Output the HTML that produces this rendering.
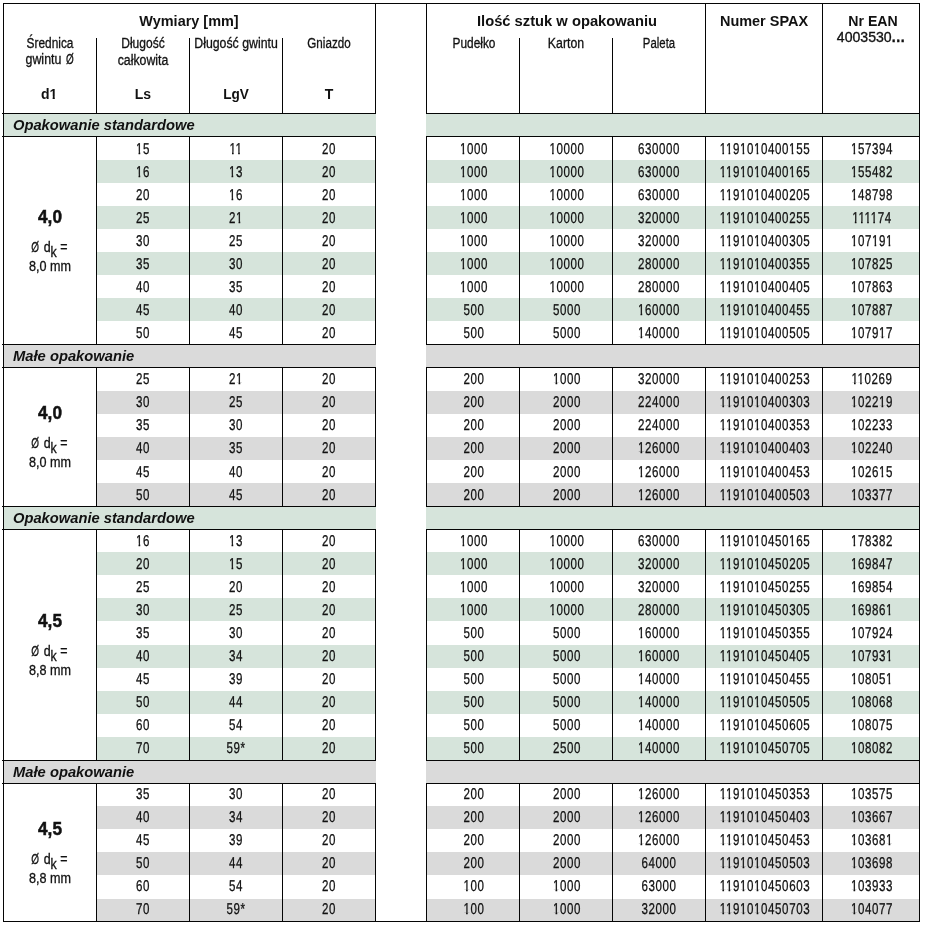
<!DOCTYPE html>
<html><head><meta charset="utf-8"><title>SPAX</title><style>
*{margin:0;padding:0;box-sizing:border-box}
html,body{width:925px;height:929px;background:#fff;overflow:hidden}
body{position:relative;font-family:"Liberation Sans",sans-serif;color:#111}
.r{position:absolute}
.t{position:absolute;width:300px;text-align:center;white-space:nowrap;transform-origin:50% 50%;filter:grayscale(1)}
.d{font-size:15.6px;line-height:15.6px;letter-spacing:0.8px;-webkit-text-stroke:0.3px #111;text-rendering:geometricPrecision}
.band{font-size:14.5px;line-height:14.5px;font-weight:bold;font-style:italic}
.big{font-size:18.5px;line-height:18.5px;font-weight:bold;-webkit-text-stroke:0.5px #111}
.dk{font-size:14px;line-height:14px;-webkit-text-stroke:0.3px #111}
.mm{font-size:14px;line-height:14px;-webkit-text-stroke:0.3px #111}
.hb{font-size:14.5px;line-height:14.5px;font-weight:bold}
.hs{font-size:14px;line-height:14px;-webkit-text-stroke:0.3px #111}
.hsym{font-size:14px;line-height:14px;font-weight:bold}
.hreg{font-size:14.5px;line-height:14.5px;-webkit-text-stroke:0.35px #111}
.kk{position:relative;top:5px}
.oo{display:inline-block;transform:scaleX(0.8)}
.o{font-style:normal;clip-path:polygon(0 0,100% 0,100% 0.7em,0.366em 0.7em,0.366em 100%,0.226em 100%,0.226em 0.7em,0 0.7em)}
.ob{font-style:normal;clip-path:polygon(0 0,100% 0,100% 0.76em,0.38em 0.76em,0.38em 100%,0.225em 100%,0.225em 0.76em,0 0.76em)}
</style></head>
<body>
<div class="r" style="left:3px;top:114px;width:373px;height:22px;background:#d6e4db"></div>
<div class="r" style="left:426px;top:114px;width:494px;height:22px;background:#d6e4db"></div>
<div class="r" style="left:96px;top:160px;width:280px;height:23px;background:#d6e4db"></div>
<div class="r" style="left:426px;top:160px;width:494px;height:23px;background:#d6e4db"></div>
<div class="r" style="left:96px;top:206px;width:280px;height:23px;background:#d6e4db"></div>
<div class="r" style="left:426px;top:206px;width:494px;height:23px;background:#d6e4db"></div>
<div class="r" style="left:96px;top:252px;width:280px;height:23px;background:#d6e4db"></div>
<div class="r" style="left:426px;top:252px;width:494px;height:23px;background:#d6e4db"></div>
<div class="r" style="left:96px;top:298px;width:280px;height:23px;background:#d6e4db"></div>
<div class="r" style="left:426px;top:298px;width:494px;height:23px;background:#d6e4db"></div>
<div class="r" style="left:3px;top:345px;width:373px;height:22px;background:#dadada"></div>
<div class="r" style="left:426px;top:345px;width:494px;height:22px;background:#dadada"></div>
<div class="r" style="left:96px;top:391px;width:280px;height:23px;background:#dadada"></div>
<div class="r" style="left:426px;top:391px;width:494px;height:23px;background:#dadada"></div>
<div class="r" style="left:96px;top:437px;width:280px;height:23px;background:#dadada"></div>
<div class="r" style="left:426px;top:437px;width:494px;height:23px;background:#dadada"></div>
<div class="r" style="left:96px;top:483px;width:280px;height:23px;background:#dadada"></div>
<div class="r" style="left:426px;top:483px;width:494px;height:23px;background:#dadada"></div>
<div class="r" style="left:3px;top:507px;width:373px;height:22px;background:#d6e4db"></div>
<div class="r" style="left:426px;top:507px;width:494px;height:22px;background:#d6e4db"></div>
<div class="r" style="left:96px;top:552px;width:280px;height:23px;background:#d6e4db"></div>
<div class="r" style="left:426px;top:552px;width:494px;height:23px;background:#d6e4db"></div>
<div class="r" style="left:96px;top:598px;width:280px;height:23px;background:#d6e4db"></div>
<div class="r" style="left:426px;top:598px;width:494px;height:23px;background:#d6e4db"></div>
<div class="r" style="left:96px;top:645px;width:280px;height:23px;background:#d6e4db"></div>
<div class="r" style="left:426px;top:645px;width:494px;height:23px;background:#d6e4db"></div>
<div class="r" style="left:96px;top:691px;width:280px;height:23px;background:#d6e4db"></div>
<div class="r" style="left:426px;top:691px;width:494px;height:23px;background:#d6e4db"></div>
<div class="r" style="left:96px;top:737px;width:280px;height:23px;background:#d6e4db"></div>
<div class="r" style="left:426px;top:737px;width:494px;height:23px;background:#d6e4db"></div>
<div class="r" style="left:3px;top:761px;width:373px;height:22px;background:#dadada"></div>
<div class="r" style="left:426px;top:761px;width:494px;height:22px;background:#dadada"></div>
<div class="r" style="left:96px;top:806px;width:280px;height:23px;background:#dadada"></div>
<div class="r" style="left:426px;top:806px;width:494px;height:23px;background:#dadada"></div>
<div class="r" style="left:96px;top:852px;width:280px;height:23px;background:#dadada"></div>
<div class="r" style="left:426px;top:852px;width:494px;height:23px;background:#dadada"></div>
<div class="r" style="left:96px;top:899px;width:280px;height:22px;background:#dadada"></div>
<div class="r" style="left:426px;top:899px;width:494px;height:22px;background:#dadada"></div>
<div class="r" style="left:3px;top:3px;width:917px;height:1px;background:#050505"></div>
<div class="r" style="left:3px;top:921px;width:917px;height:1px;background:#050505"></div>
<div class="r" style="left:2px;top:113px;width:374px;height:1px;background:#050505"></div>
<div class="r" style="left:426px;top:113px;width:494px;height:1px;background:#050505"></div>
<div class="r" style="left:2px;top:136px;width:374px;height:1px;background:#050505"></div>
<div class="r" style="left:426px;top:136px;width:494px;height:1px;background:#050505"></div>
<div class="r" style="left:2px;top:344px;width:374px;height:1px;background:#050505"></div>
<div class="r" style="left:426px;top:344px;width:494px;height:1px;background:#050505"></div>
<div class="r" style="left:2px;top:367px;width:374px;height:1px;background:#050505"></div>
<div class="r" style="left:426px;top:367px;width:494px;height:1px;background:#050505"></div>
<div class="r" style="left:2px;top:506px;width:374px;height:1px;background:#050505"></div>
<div class="r" style="left:426px;top:506px;width:494px;height:1px;background:#050505"></div>
<div class="r" style="left:2px;top:529px;width:374px;height:1px;background:#050505"></div>
<div class="r" style="left:426px;top:529px;width:494px;height:1px;background:#050505"></div>
<div class="r" style="left:2px;top:760px;width:374px;height:1px;background:#050505"></div>
<div class="r" style="left:426px;top:760px;width:494px;height:1px;background:#050505"></div>
<div class="r" style="left:2px;top:783px;width:374px;height:1px;background:#050505"></div>
<div class="r" style="left:426px;top:783px;width:494px;height:1px;background:#050505"></div>
<div class="r" style="left:3px;top:3px;width:1px;height:110px;background:#050505"></div>
<div class="r" style="left:375px;top:3px;width:1px;height:110px;background:#050505"></div>
<div class="r" style="left:426px;top:3px;width:1px;height:110px;background:#050505"></div>
<div class="r" style="left:705px;top:3px;width:1px;height:110px;background:#050505"></div>
<div class="r" style="left:822px;top:3px;width:1px;height:110px;background:#050505"></div>
<div class="r" style="left:919px;top:3px;width:1px;height:110px;background:#050505"></div>
<div class="r" style="left:96px;top:38px;width:1px;height:75px;background:#050505"></div>
<div class="r" style="left:189px;top:38px;width:1px;height:75px;background:#050505"></div>
<div class="r" style="left:282px;top:38px;width:1px;height:75px;background:#050505"></div>
<div class="r" style="left:519px;top:38px;width:1px;height:75px;background:#050505"></div>
<div class="r" style="left:612px;top:38px;width:1px;height:75px;background:#050505"></div>
<div class="r" style="left:3px;top:113px;width:1px;height:23px;background:#050505"></div>
<div class="r" style="left:919px;top:113px;width:1px;height:23px;background:#050505"></div>
<div class="r" style="left:3px;top:136px;width:1px;height:209px;background:#050505"></div>
<div class="r" style="left:96px;top:136px;width:1px;height:209px;background:#050505"></div>
<div class="r" style="left:189px;top:136px;width:1px;height:209px;background:#050505"></div>
<div class="r" style="left:282px;top:136px;width:1px;height:209px;background:#050505"></div>
<div class="r" style="left:375px;top:136px;width:1px;height:209px;background:#050505"></div>
<div class="r" style="left:426px;top:136px;width:1px;height:209px;background:#050505"></div>
<div class="r" style="left:519px;top:136px;width:1px;height:209px;background:#050505"></div>
<div class="r" style="left:612px;top:136px;width:1px;height:209px;background:#050505"></div>
<div class="r" style="left:705px;top:136px;width:1px;height:209px;background:#050505"></div>
<div class="r" style="left:822px;top:136px;width:1px;height:209px;background:#050505"></div>
<div class="r" style="left:919px;top:136px;width:1px;height:209px;background:#050505"></div>
<div class="r" style="left:3px;top:344px;width:1px;height:23px;background:#050505"></div>
<div class="r" style="left:919px;top:344px;width:1px;height:23px;background:#050505"></div>
<div class="r" style="left:3px;top:367px;width:1px;height:140px;background:#050505"></div>
<div class="r" style="left:96px;top:367px;width:1px;height:140px;background:#050505"></div>
<div class="r" style="left:189px;top:367px;width:1px;height:140px;background:#050505"></div>
<div class="r" style="left:282px;top:367px;width:1px;height:140px;background:#050505"></div>
<div class="r" style="left:375px;top:367px;width:1px;height:140px;background:#050505"></div>
<div class="r" style="left:426px;top:367px;width:1px;height:140px;background:#050505"></div>
<div class="r" style="left:519px;top:367px;width:1px;height:140px;background:#050505"></div>
<div class="r" style="left:612px;top:367px;width:1px;height:140px;background:#050505"></div>
<div class="r" style="left:705px;top:367px;width:1px;height:140px;background:#050505"></div>
<div class="r" style="left:822px;top:367px;width:1px;height:140px;background:#050505"></div>
<div class="r" style="left:919px;top:367px;width:1px;height:140px;background:#050505"></div>
<div class="r" style="left:3px;top:506px;width:1px;height:23px;background:#050505"></div>
<div class="r" style="left:919px;top:506px;width:1px;height:23px;background:#050505"></div>
<div class="r" style="left:3px;top:529px;width:1px;height:232px;background:#050505"></div>
<div class="r" style="left:96px;top:529px;width:1px;height:232px;background:#050505"></div>
<div class="r" style="left:189px;top:529px;width:1px;height:232px;background:#050505"></div>
<div class="r" style="left:282px;top:529px;width:1px;height:232px;background:#050505"></div>
<div class="r" style="left:375px;top:529px;width:1px;height:232px;background:#050505"></div>
<div class="r" style="left:426px;top:529px;width:1px;height:232px;background:#050505"></div>
<div class="r" style="left:519px;top:529px;width:1px;height:232px;background:#050505"></div>
<div class="r" style="left:612px;top:529px;width:1px;height:232px;background:#050505"></div>
<div class="r" style="left:705px;top:529px;width:1px;height:232px;background:#050505"></div>
<div class="r" style="left:822px;top:529px;width:1px;height:232px;background:#050505"></div>
<div class="r" style="left:919px;top:529px;width:1px;height:232px;background:#050505"></div>
<div class="r" style="left:3px;top:760px;width:1px;height:23px;background:#050505"></div>
<div class="r" style="left:919px;top:760px;width:1px;height:23px;background:#050505"></div>
<div class="r" style="left:3px;top:783px;width:1px;height:139px;background:#050505"></div>
<div class="r" style="left:96px;top:783px;width:1px;height:139px;background:#050505"></div>
<div class="r" style="left:189px;top:783px;width:1px;height:139px;background:#050505"></div>
<div class="r" style="left:282px;top:783px;width:1px;height:139px;background:#050505"></div>
<div class="r" style="left:375px;top:783px;width:1px;height:139px;background:#050505"></div>
<div class="r" style="left:426px;top:783px;width:1px;height:139px;background:#050505"></div>
<div class="r" style="left:519px;top:783px;width:1px;height:139px;background:#050505"></div>
<div class="r" style="left:612px;top:783px;width:1px;height:139px;background:#050505"></div>
<div class="r" style="left:705px;top:783px;width:1px;height:139px;background:#050505"></div>
<div class="r" style="left:822px;top:783px;width:1px;height:139px;background:#050505"></div>
<div class="r" style="left:919px;top:783px;width:1px;height:139px;background:#050505"></div>
<div class="t band" style="left:13.30px;top:118.28px;text-align:left;transform-origin:0 50%;transform:scaleX(1.0150);">Opakowanie standardowe</div>
<div class="t d" style="left:-7.10px;top:141.84px;transform:scaleX(0.7400);"><i class="o">1</i>5</div>
<div class="t d" style="left:85.90px;top:141.84px;transform:scaleX(0.7400);"><i class="o">1</i><i class="o">1</i></div>
<div class="t d" style="left:178.90px;top:141.84px;transform:scaleX(0.7400);">20</div>
<div class="t d" style="left:323.60px;top:141.84px;transform:scaleX(0.7400);"><i class="o">1</i>000</div>
<div class="t d" style="left:416.60px;top:141.84px;transform:scaleX(0.7400);"><i class="o">1</i>0000</div>
<div class="t d" style="left:509.40px;top:141.84px;transform:scaleX(0.7400);">630000</div>
<div class="t d" style="left:614.60px;top:141.84px;transform:scaleX(0.7400);"><i class="o">1</i><i class="o">1</i>9<i class="o">1</i>0<i class="o">1</i>0400<i class="o">1</i>55</div>
<div class="t d" style="left:722.00px;top:141.84px;transform:scaleX(0.7400);"><i class="o">1</i>57394</div>
<div class="t d" style="left:-7.10px;top:164.89px;transform:scaleX(0.7400);"><i class="o">1</i>6</div>
<div class="t d" style="left:85.90px;top:164.89px;transform:scaleX(0.7400);"><i class="o">1</i>3</div>
<div class="t d" style="left:178.90px;top:164.89px;transform:scaleX(0.7400);">20</div>
<div class="t d" style="left:323.60px;top:164.89px;transform:scaleX(0.7400);"><i class="o">1</i>000</div>
<div class="t d" style="left:416.60px;top:164.89px;transform:scaleX(0.7400);"><i class="o">1</i>0000</div>
<div class="t d" style="left:509.40px;top:164.89px;transform:scaleX(0.7400);">630000</div>
<div class="t d" style="left:614.60px;top:164.89px;transform:scaleX(0.7400);"><i class="o">1</i><i class="o">1</i>9<i class="o">1</i>0<i class="o">1</i>0400<i class="o">1</i>65</div>
<div class="t d" style="left:722.00px;top:164.89px;transform:scaleX(0.7400);"><i class="o">1</i>55482</div>
<div class="t d" style="left:-7.10px;top:187.94px;transform:scaleX(0.7400);">20</div>
<div class="t d" style="left:85.90px;top:187.94px;transform:scaleX(0.7400);"><i class="o">1</i>6</div>
<div class="t d" style="left:178.90px;top:187.94px;transform:scaleX(0.7400);">20</div>
<div class="t d" style="left:323.60px;top:187.94px;transform:scaleX(0.7400);"><i class="o">1</i>000</div>
<div class="t d" style="left:416.60px;top:187.94px;transform:scaleX(0.7400);"><i class="o">1</i>0000</div>
<div class="t d" style="left:509.40px;top:187.94px;transform:scaleX(0.7400);">630000</div>
<div class="t d" style="left:614.60px;top:187.94px;transform:scaleX(0.7400);"><i class="o">1</i><i class="o">1</i>9<i class="o">1</i>0<i class="o">1</i>0400205</div>
<div class="t d" style="left:722.00px;top:187.94px;transform:scaleX(0.7400);"><i class="o">1</i>48798</div>
<div class="t d" style="left:-7.10px;top:210.99px;transform:scaleX(0.7400);">25</div>
<div class="t d" style="left:85.90px;top:210.99px;transform:scaleX(0.7400);">2<i class="o">1</i></div>
<div class="t d" style="left:178.90px;top:210.99px;transform:scaleX(0.7400);">20</div>
<div class="t d" style="left:323.60px;top:210.99px;transform:scaleX(0.7400);"><i class="o">1</i>000</div>
<div class="t d" style="left:416.60px;top:210.99px;transform:scaleX(0.7400);"><i class="o">1</i>0000</div>
<div class="t d" style="left:509.40px;top:210.99px;transform:scaleX(0.7400);">320000</div>
<div class="t d" style="left:614.60px;top:210.99px;transform:scaleX(0.7400);"><i class="o">1</i><i class="o">1</i>9<i class="o">1</i>0<i class="o">1</i>0400255</div>
<div class="t d" style="left:722.00px;top:210.99px;transform:scaleX(0.7400);"><i class="o">1</i><i class="o">1</i><i class="o">1</i><i class="o">1</i>74</div>
<div class="t d" style="left:-7.10px;top:234.04px;transform:scaleX(0.7400);">30</div>
<div class="t d" style="left:85.90px;top:234.04px;transform:scaleX(0.7400);">25</div>
<div class="t d" style="left:178.90px;top:234.04px;transform:scaleX(0.7400);">20</div>
<div class="t d" style="left:323.60px;top:234.04px;transform:scaleX(0.7400);"><i class="o">1</i>000</div>
<div class="t d" style="left:416.60px;top:234.04px;transform:scaleX(0.7400);"><i class="o">1</i>0000</div>
<div class="t d" style="left:509.40px;top:234.04px;transform:scaleX(0.7400);">320000</div>
<div class="t d" style="left:614.60px;top:234.04px;transform:scaleX(0.7400);"><i class="o">1</i><i class="o">1</i>9<i class="o">1</i>0<i class="o">1</i>0400305</div>
<div class="t d" style="left:722.00px;top:234.04px;transform:scaleX(0.7400);"><i class="o">1</i>07<i class="o">1</i>9<i class="o">1</i></div>
<div class="t d" style="left:-7.10px;top:257.09px;transform:scaleX(0.7400);">35</div>
<div class="t d" style="left:85.90px;top:257.09px;transform:scaleX(0.7400);">30</div>
<div class="t d" style="left:178.90px;top:257.09px;transform:scaleX(0.7400);">20</div>
<div class="t d" style="left:323.60px;top:257.09px;transform:scaleX(0.7400);"><i class="o">1</i>000</div>
<div class="t d" style="left:416.60px;top:257.09px;transform:scaleX(0.7400);"><i class="o">1</i>0000</div>
<div class="t d" style="left:509.40px;top:257.09px;transform:scaleX(0.7400);">280000</div>
<div class="t d" style="left:614.60px;top:257.09px;transform:scaleX(0.7400);"><i class="o">1</i><i class="o">1</i>9<i class="o">1</i>0<i class="o">1</i>0400355</div>
<div class="t d" style="left:722.00px;top:257.09px;transform:scaleX(0.7400);"><i class="o">1</i>07825</div>
<div class="t d" style="left:-7.10px;top:280.14px;transform:scaleX(0.7400);">40</div>
<div class="t d" style="left:85.90px;top:280.14px;transform:scaleX(0.7400);">35</div>
<div class="t d" style="left:178.90px;top:280.14px;transform:scaleX(0.7400);">20</div>
<div class="t d" style="left:323.60px;top:280.14px;transform:scaleX(0.7400);"><i class="o">1</i>000</div>
<div class="t d" style="left:416.60px;top:280.14px;transform:scaleX(0.7400);"><i class="o">1</i>0000</div>
<div class="t d" style="left:509.40px;top:280.14px;transform:scaleX(0.7400);">280000</div>
<div class="t d" style="left:614.60px;top:280.14px;transform:scaleX(0.7400);"><i class="o">1</i><i class="o">1</i>9<i class="o">1</i>0<i class="o">1</i>0400405</div>
<div class="t d" style="left:722.00px;top:280.14px;transform:scaleX(0.7400);"><i class="o">1</i>07863</div>
<div class="t d" style="left:-7.10px;top:303.19px;transform:scaleX(0.7400);">45</div>
<div class="t d" style="left:85.90px;top:303.19px;transform:scaleX(0.7400);">40</div>
<div class="t d" style="left:178.90px;top:303.19px;transform:scaleX(0.7400);">20</div>
<div class="t d" style="left:323.60px;top:303.19px;transform:scaleX(0.7400);">500</div>
<div class="t d" style="left:416.60px;top:303.19px;transform:scaleX(0.7400);">5000</div>
<div class="t d" style="left:509.40px;top:303.19px;transform:scaleX(0.7400);"><i class="o">1</i>60000</div>
<div class="t d" style="left:614.60px;top:303.19px;transform:scaleX(0.7400);"><i class="o">1</i><i class="o">1</i>9<i class="o">1</i>0<i class="o">1</i>0400455</div>
<div class="t d" style="left:722.00px;top:303.19px;transform:scaleX(0.7400);"><i class="o">1</i>07887</div>
<div class="t d" style="left:-7.10px;top:326.24px;transform:scaleX(0.7400);">50</div>
<div class="t d" style="left:85.90px;top:326.24px;transform:scaleX(0.7400);">45</div>
<div class="t d" style="left:178.90px;top:326.24px;transform:scaleX(0.7400);">20</div>
<div class="t d" style="left:323.60px;top:326.24px;transform:scaleX(0.7400);">500</div>
<div class="t d" style="left:416.60px;top:326.24px;transform:scaleX(0.7400);">5000</div>
<div class="t d" style="left:509.40px;top:326.24px;transform:scaleX(0.7400);"><i class="o">1</i>40000</div>
<div class="t d" style="left:614.60px;top:326.24px;transform:scaleX(0.7400);"><i class="o">1</i><i class="o">1</i>9<i class="o">1</i>0<i class="o">1</i>0400505</div>
<div class="t d" style="left:722.00px;top:326.24px;transform:scaleX(0.7400);"><i class="o">1</i>079<i class="o">1</i>7</div>
<div class="t big" style="left:-100.40px;top:208.17px;transform:scaleX(0.9300);">4,0</div>
<div class="t dk" style="left:-100.60px;top:240.18px;transform:scaleX(0.8886);"><span class="oo">Ø</span> d<span class="kk">k</span> =</div>
<div class="t mm" style="left:-100.40px;top:259.08px;transform:scaleX(0.9007);">8,0 mm</div>
<div class="t band" style="left:13.30px;top:349.16px;text-align:left;transform-origin:0 50%;transform:scaleX(1.0170);">Małe opakowanie</div>
<div class="t d" style="left:-7.10px;top:372.33px;transform:scaleX(0.7400);">25</div>
<div class="t d" style="left:85.90px;top:372.33px;transform:scaleX(0.7400);">2<i class="o">1</i></div>
<div class="t d" style="left:178.90px;top:372.33px;transform:scaleX(0.7400);">20</div>
<div class="t d" style="left:323.60px;top:372.33px;transform:scaleX(0.7400);">200</div>
<div class="t d" style="left:416.60px;top:372.33px;transform:scaleX(0.7400);"><i class="o">1</i>000</div>
<div class="t d" style="left:509.40px;top:372.33px;transform:scaleX(0.7400);">320000</div>
<div class="t d" style="left:614.60px;top:372.33px;transform:scaleX(0.7400);"><i class="o">1</i><i class="o">1</i>9<i class="o">1</i>0<i class="o">1</i>0400253</div>
<div class="t d" style="left:722.00px;top:372.33px;transform:scaleX(0.7400);"><i class="o">1</i><i class="o">1</i>0269</div>
<div class="t d" style="left:-7.10px;top:395.38px;transform:scaleX(0.7400);">30</div>
<div class="t d" style="left:85.90px;top:395.38px;transform:scaleX(0.7400);">25</div>
<div class="t d" style="left:178.90px;top:395.38px;transform:scaleX(0.7400);">20</div>
<div class="t d" style="left:323.60px;top:395.38px;transform:scaleX(0.7400);">200</div>
<div class="t d" style="left:416.60px;top:395.38px;transform:scaleX(0.7400);">2000</div>
<div class="t d" style="left:509.40px;top:395.38px;transform:scaleX(0.7400);">224000</div>
<div class="t d" style="left:614.60px;top:395.38px;transform:scaleX(0.7400);"><i class="o">1</i><i class="o">1</i>9<i class="o">1</i>0<i class="o">1</i>0400303</div>
<div class="t d" style="left:722.00px;top:395.38px;transform:scaleX(0.7400);"><i class="o">1</i>022<i class="o">1</i>9</div>
<div class="t d" style="left:-7.10px;top:418.43px;transform:scaleX(0.7400);">35</div>
<div class="t d" style="left:85.90px;top:418.43px;transform:scaleX(0.7400);">30</div>
<div class="t d" style="left:178.90px;top:418.43px;transform:scaleX(0.7400);">20</div>
<div class="t d" style="left:323.60px;top:418.43px;transform:scaleX(0.7400);">200</div>
<div class="t d" style="left:416.60px;top:418.43px;transform:scaleX(0.7400);">2000</div>
<div class="t d" style="left:509.40px;top:418.43px;transform:scaleX(0.7400);">224000</div>
<div class="t d" style="left:614.60px;top:418.43px;transform:scaleX(0.7400);"><i class="o">1</i><i class="o">1</i>9<i class="o">1</i>0<i class="o">1</i>0400353</div>
<div class="t d" style="left:722.00px;top:418.43px;transform:scaleX(0.7400);"><i class="o">1</i>02233</div>
<div class="t d" style="left:-7.10px;top:441.48px;transform:scaleX(0.7400);">40</div>
<div class="t d" style="left:85.90px;top:441.48px;transform:scaleX(0.7400);">35</div>
<div class="t d" style="left:178.90px;top:441.48px;transform:scaleX(0.7400);">20</div>
<div class="t d" style="left:323.60px;top:441.48px;transform:scaleX(0.7400);">200</div>
<div class="t d" style="left:416.60px;top:441.48px;transform:scaleX(0.7400);">2000</div>
<div class="t d" style="left:509.40px;top:441.48px;transform:scaleX(0.7400);"><i class="o">1</i>26000</div>
<div class="t d" style="left:614.60px;top:441.48px;transform:scaleX(0.7400);"><i class="o">1</i><i class="o">1</i>9<i class="o">1</i>0<i class="o">1</i>0400403</div>
<div class="t d" style="left:722.00px;top:441.48px;transform:scaleX(0.7400);"><i class="o">1</i>02240</div>
<div class="t d" style="left:-7.10px;top:464.53px;transform:scaleX(0.7400);">45</div>
<div class="t d" style="left:85.90px;top:464.53px;transform:scaleX(0.7400);">40</div>
<div class="t d" style="left:178.90px;top:464.53px;transform:scaleX(0.7400);">20</div>
<div class="t d" style="left:323.60px;top:464.53px;transform:scaleX(0.7400);">200</div>
<div class="t d" style="left:416.60px;top:464.53px;transform:scaleX(0.7400);">2000</div>
<div class="t d" style="left:509.40px;top:464.53px;transform:scaleX(0.7400);"><i class="o">1</i>26000</div>
<div class="t d" style="left:614.60px;top:464.53px;transform:scaleX(0.7400);"><i class="o">1</i><i class="o">1</i>9<i class="o">1</i>0<i class="o">1</i>0400453</div>
<div class="t d" style="left:722.00px;top:464.53px;transform:scaleX(0.7400);"><i class="o">1</i>026<i class="o">1</i>5</div>
<div class="t d" style="left:-7.10px;top:487.58px;transform:scaleX(0.7400);">50</div>
<div class="t d" style="left:85.90px;top:487.58px;transform:scaleX(0.7400);">45</div>
<div class="t d" style="left:178.90px;top:487.58px;transform:scaleX(0.7400);">20</div>
<div class="t d" style="left:323.60px;top:487.58px;transform:scaleX(0.7400);">200</div>
<div class="t d" style="left:416.60px;top:487.58px;transform:scaleX(0.7400);">2000</div>
<div class="t d" style="left:509.40px;top:487.58px;transform:scaleX(0.7400);"><i class="o">1</i>26000</div>
<div class="t d" style="left:614.60px;top:487.58px;transform:scaleX(0.7400);"><i class="o">1</i><i class="o">1</i>9<i class="o">1</i>0<i class="o">1</i>0400503</div>
<div class="t d" style="left:722.00px;top:487.58px;transform:scaleX(0.7400);"><i class="o">1</i>03377</div>
<div class="t big" style="left:-100.40px;top:404.42px;transform:scaleX(0.9300);">4,0</div>
<div class="t dk" style="left:-100.60px;top:436.43px;transform:scaleX(0.8886);"><span class="oo">Ø</span> d<span class="kk">k</span> =</div>
<div class="t mm" style="left:-100.40px;top:455.33px;transform:scaleX(0.9007);">8,0 mm</div>
<div class="t band" style="left:13.30px;top:510.77px;text-align:left;transform-origin:0 50%;transform:scaleX(1.0150);">Opakowanie standardowe</div>
<div class="t d" style="left:-7.10px;top:533.68px;transform:scaleX(0.7400);"><i class="o">1</i>6</div>
<div class="t d" style="left:85.90px;top:533.68px;transform:scaleX(0.7400);"><i class="o">1</i>3</div>
<div class="t d" style="left:178.90px;top:533.68px;transform:scaleX(0.7400);">20</div>
<div class="t d" style="left:323.60px;top:533.68px;transform:scaleX(0.7400);"><i class="o">1</i>000</div>
<div class="t d" style="left:416.60px;top:533.68px;transform:scaleX(0.7400);"><i class="o">1</i>0000</div>
<div class="t d" style="left:509.40px;top:533.68px;transform:scaleX(0.7400);">630000</div>
<div class="t d" style="left:614.60px;top:533.68px;transform:scaleX(0.7400);"><i class="o">1</i><i class="o">1</i>9<i class="o">1</i>0<i class="o">1</i>0450<i class="o">1</i>65</div>
<div class="t d" style="left:722.00px;top:533.68px;transform:scaleX(0.7400);"><i class="o">1</i>78382</div>
<div class="t d" style="left:-7.10px;top:556.73px;transform:scaleX(0.7400);">20</div>
<div class="t d" style="left:85.90px;top:556.73px;transform:scaleX(0.7400);"><i class="o">1</i>5</div>
<div class="t d" style="left:178.90px;top:556.73px;transform:scaleX(0.7400);">20</div>
<div class="t d" style="left:323.60px;top:556.73px;transform:scaleX(0.7400);"><i class="o">1</i>000</div>
<div class="t d" style="left:416.60px;top:556.73px;transform:scaleX(0.7400);"><i class="o">1</i>0000</div>
<div class="t d" style="left:509.40px;top:556.73px;transform:scaleX(0.7400);">320000</div>
<div class="t d" style="left:614.60px;top:556.73px;transform:scaleX(0.7400);"><i class="o">1</i><i class="o">1</i>9<i class="o">1</i>0<i class="o">1</i>0450205</div>
<div class="t d" style="left:722.00px;top:556.73px;transform:scaleX(0.7400);"><i class="o">1</i>69847</div>
<div class="t d" style="left:-7.10px;top:579.77px;transform:scaleX(0.7400);">25</div>
<div class="t d" style="left:85.90px;top:579.77px;transform:scaleX(0.7400);">20</div>
<div class="t d" style="left:178.90px;top:579.77px;transform:scaleX(0.7400);">20</div>
<div class="t d" style="left:323.60px;top:579.77px;transform:scaleX(0.7400);"><i class="o">1</i>000</div>
<div class="t d" style="left:416.60px;top:579.77px;transform:scaleX(0.7400);"><i class="o">1</i>0000</div>
<div class="t d" style="left:509.40px;top:579.77px;transform:scaleX(0.7400);">320000</div>
<div class="t d" style="left:614.60px;top:579.77px;transform:scaleX(0.7400);"><i class="o">1</i><i class="o">1</i>9<i class="o">1</i>0<i class="o">1</i>0450255</div>
<div class="t d" style="left:722.00px;top:579.77px;transform:scaleX(0.7400);"><i class="o">1</i>69854</div>
<div class="t d" style="left:-7.10px;top:602.82px;transform:scaleX(0.7400);">30</div>
<div class="t d" style="left:85.90px;top:602.82px;transform:scaleX(0.7400);">25</div>
<div class="t d" style="left:178.90px;top:602.82px;transform:scaleX(0.7400);">20</div>
<div class="t d" style="left:323.60px;top:602.82px;transform:scaleX(0.7400);"><i class="o">1</i>000</div>
<div class="t d" style="left:416.60px;top:602.82px;transform:scaleX(0.7400);"><i class="o">1</i>0000</div>
<div class="t d" style="left:509.40px;top:602.82px;transform:scaleX(0.7400);">280000</div>
<div class="t d" style="left:614.60px;top:602.82px;transform:scaleX(0.7400);"><i class="o">1</i><i class="o">1</i>9<i class="o">1</i>0<i class="o">1</i>0450305</div>
<div class="t d" style="left:722.00px;top:602.82px;transform:scaleX(0.7400);"><i class="o">1</i>6986<i class="o">1</i></div>
<div class="t d" style="left:-7.10px;top:625.87px;transform:scaleX(0.7400);">35</div>
<div class="t d" style="left:85.90px;top:625.87px;transform:scaleX(0.7400);">30</div>
<div class="t d" style="left:178.90px;top:625.87px;transform:scaleX(0.7400);">20</div>
<div class="t d" style="left:323.60px;top:625.87px;transform:scaleX(0.7400);">500</div>
<div class="t d" style="left:416.60px;top:625.87px;transform:scaleX(0.7400);">5000</div>
<div class="t d" style="left:509.40px;top:625.87px;transform:scaleX(0.7400);"><i class="o">1</i>60000</div>
<div class="t d" style="left:614.60px;top:625.87px;transform:scaleX(0.7400);"><i class="o">1</i><i class="o">1</i>9<i class="o">1</i>0<i class="o">1</i>0450355</div>
<div class="t d" style="left:722.00px;top:625.87px;transform:scaleX(0.7400);"><i class="o">1</i>07924</div>
<div class="t d" style="left:-7.10px;top:648.92px;transform:scaleX(0.7400);">40</div>
<div class="t d" style="left:85.90px;top:648.92px;transform:scaleX(0.7400);">34</div>
<div class="t d" style="left:178.90px;top:648.92px;transform:scaleX(0.7400);">20</div>
<div class="t d" style="left:323.60px;top:648.92px;transform:scaleX(0.7400);">500</div>
<div class="t d" style="left:416.60px;top:648.92px;transform:scaleX(0.7400);">5000</div>
<div class="t d" style="left:509.40px;top:648.92px;transform:scaleX(0.7400);"><i class="o">1</i>60000</div>
<div class="t d" style="left:614.60px;top:648.92px;transform:scaleX(0.7400);"><i class="o">1</i><i class="o">1</i>9<i class="o">1</i>0<i class="o">1</i>0450405</div>
<div class="t d" style="left:722.00px;top:648.92px;transform:scaleX(0.7400);"><i class="o">1</i>0793<i class="o">1</i></div>
<div class="t d" style="left:-7.10px;top:671.97px;transform:scaleX(0.7400);">45</div>
<div class="t d" style="left:85.90px;top:671.97px;transform:scaleX(0.7400);">39</div>
<div class="t d" style="left:178.90px;top:671.97px;transform:scaleX(0.7400);">20</div>
<div class="t d" style="left:323.60px;top:671.97px;transform:scaleX(0.7400);">500</div>
<div class="t d" style="left:416.60px;top:671.97px;transform:scaleX(0.7400);">5000</div>
<div class="t d" style="left:509.40px;top:671.97px;transform:scaleX(0.7400);"><i class="o">1</i>40000</div>
<div class="t d" style="left:614.60px;top:671.97px;transform:scaleX(0.7400);"><i class="o">1</i><i class="o">1</i>9<i class="o">1</i>0<i class="o">1</i>0450455</div>
<div class="t d" style="left:722.00px;top:671.97px;transform:scaleX(0.7400);"><i class="o">1</i>0805<i class="o">1</i></div>
<div class="t d" style="left:-7.10px;top:695.02px;transform:scaleX(0.7400);">50</div>
<div class="t d" style="left:85.90px;top:695.02px;transform:scaleX(0.7400);">44</div>
<div class="t d" style="left:178.90px;top:695.02px;transform:scaleX(0.7400);">20</div>
<div class="t d" style="left:323.60px;top:695.02px;transform:scaleX(0.7400);">500</div>
<div class="t d" style="left:416.60px;top:695.02px;transform:scaleX(0.7400);">5000</div>
<div class="t d" style="left:509.40px;top:695.02px;transform:scaleX(0.7400);"><i class="o">1</i>40000</div>
<div class="t d" style="left:614.60px;top:695.02px;transform:scaleX(0.7400);"><i class="o">1</i><i class="o">1</i>9<i class="o">1</i>0<i class="o">1</i>0450505</div>
<div class="t d" style="left:722.00px;top:695.02px;transform:scaleX(0.7400);"><i class="o">1</i>08068</div>
<div class="t d" style="left:-7.10px;top:718.07px;transform:scaleX(0.7400);">60</div>
<div class="t d" style="left:85.90px;top:718.07px;transform:scaleX(0.7400);">54</div>
<div class="t d" style="left:178.90px;top:718.07px;transform:scaleX(0.7400);">20</div>
<div class="t d" style="left:323.60px;top:718.07px;transform:scaleX(0.7400);">500</div>
<div class="t d" style="left:416.60px;top:718.07px;transform:scaleX(0.7400);">5000</div>
<div class="t d" style="left:509.40px;top:718.07px;transform:scaleX(0.7400);"><i class="o">1</i>40000</div>
<div class="t d" style="left:614.60px;top:718.07px;transform:scaleX(0.7400);"><i class="o">1</i><i class="o">1</i>9<i class="o">1</i>0<i class="o">1</i>0450605</div>
<div class="t d" style="left:722.00px;top:718.07px;transform:scaleX(0.7400);"><i class="o">1</i>08075</div>
<div class="t d" style="left:-7.10px;top:741.12px;transform:scaleX(0.7400);">70</div>
<div class="t d" style="left:85.90px;top:741.12px;transform:scaleX(0.7400);">59*</div>
<div class="t d" style="left:178.90px;top:741.12px;transform:scaleX(0.7400);">20</div>
<div class="t d" style="left:323.60px;top:741.12px;transform:scaleX(0.7400);">500</div>
<div class="t d" style="left:416.60px;top:741.12px;transform:scaleX(0.7400);">2500</div>
<div class="t d" style="left:509.40px;top:741.12px;transform:scaleX(0.7400);"><i class="o">1</i>40000</div>
<div class="t d" style="left:614.60px;top:741.12px;transform:scaleX(0.7400);"><i class="o">1</i><i class="o">1</i>9<i class="o">1</i>0<i class="o">1</i>0450705</div>
<div class="t d" style="left:722.00px;top:741.12px;transform:scaleX(0.7400);"><i class="o">1</i>08082</div>
<div class="t big" style="left:-100.40px;top:612.21px;transform:scaleX(0.9300);">4,5</div>
<div class="t dk" style="left:-100.60px;top:644.22px;transform:scaleX(0.8886);"><span class="oo">Ø</span> d<span class="kk">k</span> =</div>
<div class="t mm" style="left:-100.40px;top:663.12px;transform:scaleX(0.9007);">8,8 mm</div>
<div class="t band" style="left:13.30px;top:764.74px;text-align:left;transform-origin:0 50%;transform:scaleX(1.0170);">Małe opakowanie</div>
<div class="t d" style="left:-7.10px;top:787.22px;transform:scaleX(0.7400);">35</div>
<div class="t d" style="left:85.90px;top:787.22px;transform:scaleX(0.7400);">30</div>
<div class="t d" style="left:178.90px;top:787.22px;transform:scaleX(0.7400);">20</div>
<div class="t d" style="left:323.60px;top:787.22px;transform:scaleX(0.7400);">200</div>
<div class="t d" style="left:416.60px;top:787.22px;transform:scaleX(0.7400);">2000</div>
<div class="t d" style="left:509.40px;top:787.22px;transform:scaleX(0.7400);"><i class="o">1</i>26000</div>
<div class="t d" style="left:614.60px;top:787.22px;transform:scaleX(0.7400);"><i class="o">1</i><i class="o">1</i>9<i class="o">1</i>0<i class="o">1</i>0450353</div>
<div class="t d" style="left:722.00px;top:787.22px;transform:scaleX(0.7400);"><i class="o">1</i>03575</div>
<div class="t d" style="left:-7.10px;top:810.26px;transform:scaleX(0.7400);">40</div>
<div class="t d" style="left:85.90px;top:810.26px;transform:scaleX(0.7400);">34</div>
<div class="t d" style="left:178.90px;top:810.26px;transform:scaleX(0.7400);">20</div>
<div class="t d" style="left:323.60px;top:810.26px;transform:scaleX(0.7400);">200</div>
<div class="t d" style="left:416.60px;top:810.26px;transform:scaleX(0.7400);">2000</div>
<div class="t d" style="left:509.40px;top:810.26px;transform:scaleX(0.7400);"><i class="o">1</i>26000</div>
<div class="t d" style="left:614.60px;top:810.26px;transform:scaleX(0.7400);"><i class="o">1</i><i class="o">1</i>9<i class="o">1</i>0<i class="o">1</i>0450403</div>
<div class="t d" style="left:722.00px;top:810.26px;transform:scaleX(0.7400);"><i class="o">1</i>03667</div>
<div class="t d" style="left:-7.10px;top:833.31px;transform:scaleX(0.7400);">45</div>
<div class="t d" style="left:85.90px;top:833.31px;transform:scaleX(0.7400);">39</div>
<div class="t d" style="left:178.90px;top:833.31px;transform:scaleX(0.7400);">20</div>
<div class="t d" style="left:323.60px;top:833.31px;transform:scaleX(0.7400);">200</div>
<div class="t d" style="left:416.60px;top:833.31px;transform:scaleX(0.7400);">2000</div>
<div class="t d" style="left:509.40px;top:833.31px;transform:scaleX(0.7400);"><i class="o">1</i>26000</div>
<div class="t d" style="left:614.60px;top:833.31px;transform:scaleX(0.7400);"><i class="o">1</i><i class="o">1</i>9<i class="o">1</i>0<i class="o">1</i>0450453</div>
<div class="t d" style="left:722.00px;top:833.31px;transform:scaleX(0.7400);"><i class="o">1</i>0368<i class="o">1</i></div>
<div class="t d" style="left:-7.10px;top:856.36px;transform:scaleX(0.7400);">50</div>
<div class="t d" style="left:85.90px;top:856.36px;transform:scaleX(0.7400);">44</div>
<div class="t d" style="left:178.90px;top:856.36px;transform:scaleX(0.7400);">20</div>
<div class="t d" style="left:323.60px;top:856.36px;transform:scaleX(0.7400);">200</div>
<div class="t d" style="left:416.60px;top:856.36px;transform:scaleX(0.7400);">2000</div>
<div class="t d" style="left:509.40px;top:856.36px;transform:scaleX(0.7400);">64000</div>
<div class="t d" style="left:614.60px;top:856.36px;transform:scaleX(0.7400);"><i class="o">1</i><i class="o">1</i>9<i class="o">1</i>0<i class="o">1</i>0450503</div>
<div class="t d" style="left:722.00px;top:856.36px;transform:scaleX(0.7400);"><i class="o">1</i>03698</div>
<div class="t d" style="left:-7.10px;top:879.41px;transform:scaleX(0.7400);">60</div>
<div class="t d" style="left:85.90px;top:879.41px;transform:scaleX(0.7400);">54</div>
<div class="t d" style="left:178.90px;top:879.41px;transform:scaleX(0.7400);">20</div>
<div class="t d" style="left:323.60px;top:879.41px;transform:scaleX(0.7400);"><i class="o">1</i>00</div>
<div class="t d" style="left:416.60px;top:879.41px;transform:scaleX(0.7400);"><i class="o">1</i>000</div>
<div class="t d" style="left:509.40px;top:879.41px;transform:scaleX(0.7400);">63000</div>
<div class="t d" style="left:614.60px;top:879.41px;transform:scaleX(0.7400);"><i class="o">1</i><i class="o">1</i>9<i class="o">1</i>0<i class="o">1</i>0450603</div>
<div class="t d" style="left:722.00px;top:879.41px;transform:scaleX(0.7400);"><i class="o">1</i>03933</div>
<div class="t d" style="left:-7.10px;top:902.46px;transform:scaleX(0.7400);">70</div>
<div class="t d" style="left:85.90px;top:902.46px;transform:scaleX(0.7400);">59*</div>
<div class="t d" style="left:178.90px;top:902.46px;transform:scaleX(0.7400);">20</div>
<div class="t d" style="left:323.60px;top:902.46px;transform:scaleX(0.7400);"><i class="o">1</i>00</div>
<div class="t d" style="left:416.60px;top:902.46px;transform:scaleX(0.7400);"><i class="o">1</i>000</div>
<div class="t d" style="left:509.40px;top:902.46px;transform:scaleX(0.7400);">32000</div>
<div class="t d" style="left:614.60px;top:902.46px;transform:scaleX(0.7400);"><i class="o">1</i><i class="o">1</i>9<i class="o">1</i>0<i class="o">1</i>0450703</div>
<div class="t d" style="left:722.00px;top:902.46px;transform:scaleX(0.7400);"><i class="o">1</i>04077</div>
<div class="t big" style="left:-100.40px;top:820.01px;transform:scaleX(0.9300);">4,5</div>
<div class="t dk" style="left:-100.60px;top:852.01px;transform:scaleX(0.8886);"><span class="oo">Ø</span> d<span class="kk">k</span> =</div>
<div class="t mm" style="left:-100.40px;top:870.91px;transform:scaleX(0.9007);">8,8 mm</div>
<div class="t hb" style="left:39.00px;top:13.83px;transform:scaleX(0.9960);">Wymiary [mm]</div>
<div class="t hb" style="left:416.50px;top:13.83px;transform:scaleX(1.0160);">Ilość sztuk w opakowaniu</div>
<div class="t hb" style="left:614.25px;top:13.93px;transform:scaleX(0.9966);">Numer SPAX</div>
<div class="t hb" style="left:722.75px;top:13.93px;transform:scaleX(0.9735);">Nr EAN</div>
<div class="t hreg" style="left:720.60px;top:29.63px;transform:scaleX(0.9710);">4003530<b style="letter-spacing:0.6px">...</b></div>
<div class="t hs" style="left:-100.45px;top:35.85px;transform:scaleX(0.8491);">Średnica</div>
<div class="t hs" style="left:-100.30px;top:52.45px;transform:scaleX(0.8868);">gwintu <span class="oo">Ø</span></div>
<div class="t hs" style="left:-7.30px;top:35.95px;transform:scaleX(0.8600);">Długość</div>
<div class="t hs" style="left:-7.15px;top:52.55px;transform:scaleX(0.8810);">całkowita</div>
<div class="t hs" style="left:85.60px;top:35.95px;transform:scaleX(0.8796);">Długość gwintu</div>
<div class="t hs" style="left:178.50px;top:35.95px;transform:scaleX(0.8314);">Gniazdo</div>
<div class="t hs" style="left:323.50px;top:35.85px;transform:scaleX(0.8490);">Pudełko</div>
<div class="t hs" style="left:416.20px;top:35.85px;transform:scaleX(0.8800);">Karton</div>
<div class="t hs" style="left:509.45px;top:35.85px;transform:scaleX(0.8125);">Paleta</div>
<div class="t hsym" style="left:-100.90px;top:86.95px;">d<i class="ob">1</i></div>
<div class="t hsym" style="left:-7.15px;top:86.95px;">Ls</div>
<div class="t hsym" style="left:85.75px;top:86.95px;transform:scaleX(0.9700);">LgV</div>
<div class="t hsym" style="left:179.15px;top:86.95px;">T</div>
</body></html>
